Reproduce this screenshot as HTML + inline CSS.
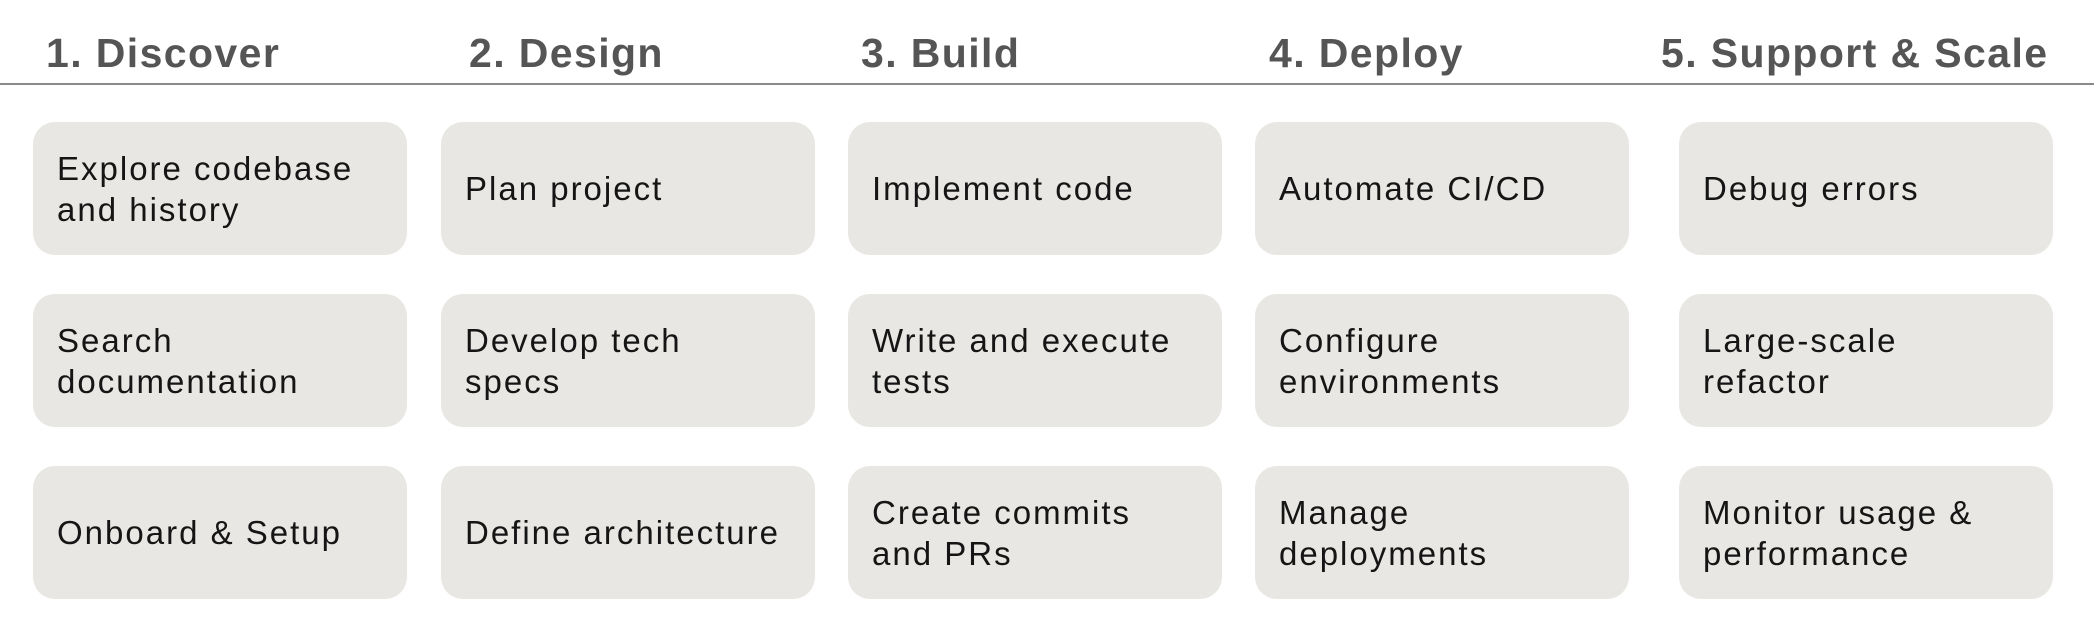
<!DOCTYPE html>
<html><head><meta charset="utf-8"><style>
html,body{margin:0;padding:0;background:#fff;width:2094px;height:638px;overflow:hidden;position:relative;font-family:"Liberation Sans",sans-serif}
.h{position:absolute;top:30px;font-size:41px;font-weight:bold;color:#555;letter-spacing:1.4px;white-space:nowrap}
.line{position:absolute;left:0;top:83px;width:2094px;height:2px;background:#8a8a8a}
.b{position:absolute;width:374px;height:133px;background:#e8e7e3;border-radius:22px;display:flex;align-items:center;box-sizing:border-box;padding-left:24px;font-size:33px;line-height:41px;color:#151515;letter-spacing:2px;white-space:nowrap}
</style></head><body>
<div class="h" style="left:46px">1. Discover</div>
<div class="h" style="left:469px">2. Design</div>
<div class="h" style="left:861px">3. Build</div>
<div class="h" style="left:1269px">4. Deploy</div>
<div class="h" style="left:1661px">5. Support &amp; Scale</div>
<div class="line"></div>

<div class="b" style="left:33px;top:122px">Explore codebase<br>and history</div>
<div class="b" style="left:33px;top:294px">Search<br>documentation</div>
<div class="b" style="left:33px;top:466px">Onboard &amp; Setup</div>

<div class="b" style="left:441px;top:122px">Plan project</div>
<div class="b" style="left:441px;top:294px">Develop tech<br>specs</div>
<div class="b" style="left:441px;top:466px">Define architecture</div>

<div class="b" style="left:848px;top:122px">Implement code</div>
<div class="b" style="left:848px;top:294px">Write and execute<br>tests</div>
<div class="b" style="left:848px;top:466px">Create commits<br>and PRs</div>

<div class="b" style="left:1255px;top:122px">Automate CI/CD</div>
<div class="b" style="left:1255px;top:294px">Configure<br>environments</div>
<div class="b" style="left:1255px;top:466px">Manage<br>deployments</div>

<div class="b" style="left:1679px;top:122px">Debug errors</div>
<div class="b" style="left:1679px;top:294px">Large-scale<br>refactor</div>
<div class="b" style="left:1679px;top:466px">Monitor usage &amp;<br>performance</div>
</body></html>
